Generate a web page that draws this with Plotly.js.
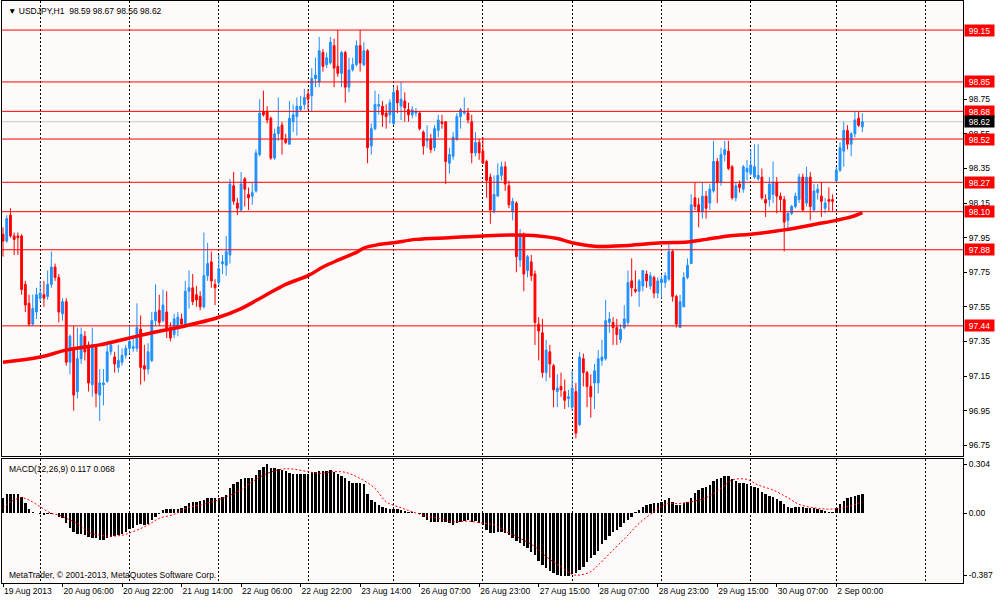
<!DOCTYPE html>
<html><head><meta charset="utf-8">
<script src="https://cdn.plot.ly/plotly-3.0.1.min.js"></script>
<style>html,body{margin:0;padding:0;background:#fff}#chart{width:1000px;height:600px}</style>
</head><body><div id="chart"></div>
<script>
// ---- USDJPY H1 candles (bar index 0 = 19 Aug 2013 14:00) ----
const openP = [
97.97,97.93,98.08,97.96,97.96,97.96,97.68,97.57,97.45,97.52,
97.60,97.62,97.61,97.68,97.78,97.72,97.51,97.58,97.23,97.31,
97.06,97.25,97.38,97.33,97.10,97.32,97.04,97.10,97.12,97.29,
97.26,97.20,97.23,97.27,97.31,97.31,97.31,97.42,97.21,97.19,
97.24,97.47,97.53,97.47,97.52,97.43,97.39,97.43,97.48,97.44,
97.64,97.66,97.62,97.61,97.55,97.73,97.81,97.68,97.69,97.80,
97.79,97.85,98.25,98.15,98.11,98.29,98.20,98.19,98.22,98.43,
98.68,98.68,98.64,98.41,98.55,98.60,98.52,98.49,98.62,98.65,
98.69,98.72,98.78,98.77,98.87,98.85,99.02,98.95,98.96,99.06,
98.94,98.90,99.02,98.82,98.92,98.95,99.06,98.95,99.03,98.48,
98.58,98.71,98.71,98.67,98.66,98.61,98.80,98.71,98.74,98.69,
98.66,98.67,98.67,98.56,98.51,98.52,98.47,98.57,98.62,98.62,
98.38,98.42,98.52,98.65,98.67,98.67,98.62,98.44,98.50,98.45,
98.39,98.30,98.10,98.19,98.31,98.36,98.25,98.10,98.15,97.82,
97.96,97.76,97.81,97.74,97.45,97.40,97.17,97.29,97.21,97.06,
97.09,97.06,97.02,96.97,97.06,96.87,97.25,97.17,97.09,97.11,
97.11,97.24,97.25,97.46,97.46,97.43,97.36,97.43,97.46,97.70,
97.65,97.64,97.67,97.74,97.67,97.72,97.63,97.69,97.69,97.71,
97.87,97.61,97.43,97.55,97.72,97.80,98.18,98.14,98.10,98.19,
98.15,98.22,98.39,98.27,98.43,98.45,98.36,98.18,98.26,98.23,
98.33,98.32,98.30,98.29,98.30,98.17,98.17,98.20,98.27,98.19,
98.17,98.05,98.09,98.13,98.17,98.30,98.15,98.30,98.11,98.21,
98.19,98.12,98.17,98.17,98.28,98.34,98.45,98.57,98.49,98.55,
98.64,98.59];
const highP = [
98.01,98.08,98.12,97.98,97.98,97.97,97.70,97.62,97.62,97.66,
97.70,97.70,97.76,97.87,97.80,97.74,97.60,97.60,97.39,97.44,
97.43,97.43,97.41,97.35,97.43,97.33,97.19,97.19,97.35,97.35,
97.29,97.33,97.31,97.33,97.44,97.38,97.57,97.50,97.33,97.34,
97.52,97.68,97.62,97.65,97.64,97.46,97.51,97.52,97.51,97.70,
97.76,97.74,97.67,97.64,97.98,97.92,97.87,97.71,97.85,97.85,
97.96,98.29,98.33,98.18,98.33,98.30,98.24,98.27,98.46,98.75,
98.80,98.71,98.65,98.58,98.76,98.62,98.55,98.74,98.72,98.76,
98.77,98.81,98.81,98.93,98.99,99.11,99.04,99.02,99.11,99.10,
99.15,99.03,99.03,98.99,98.99,99.09,99.15,99.08,99.04,98.61,
98.80,98.78,98.74,98.72,98.75,98.82,98.83,98.85,98.79,98.73,
98.71,98.70,98.68,98.57,98.60,98.55,98.60,98.66,98.66,98.62,
98.47,98.56,98.67,98.70,98.76,98.70,98.66,98.56,98.52,98.53,
98.40,98.32,98.31,98.38,98.39,98.39,98.28,98.18,98.16,98.00,
97.98,97.85,97.85,97.76,97.49,97.48,97.36,97.33,97.22,97.16,
97.17,97.13,97.07,97.18,97.11,97.29,97.28,97.18,97.16,97.22,
97.30,97.36,97.59,97.52,97.49,97.48,97.45,97.56,97.76,97.83,
97.76,97.71,97.76,97.76,97.75,97.73,97.72,97.73,97.75,97.91,
97.88,97.62,97.62,97.75,97.83,98.20,98.27,98.18,98.27,98.22,
98.26,98.51,98.41,98.47,98.51,98.51,98.37,98.27,98.28,98.37,
98.40,98.46,98.49,98.49,98.35,98.20,98.30,98.39,98.30,98.21,
98.19,98.10,98.14,98.21,98.32,98.32,98.36,98.33,98.26,98.26,
98.27,98.18,98.24,98.20,98.36,98.50,98.62,98.60,98.56,98.68,
98.68,98.67];
const lowP = [
97.84,97.92,97.95,97.85,97.85,97.62,97.52,97.44,97.44,97.48,
97.58,97.55,97.59,97.66,97.70,97.46,97.47,97.21,97.16,96.95,
97.02,97.22,97.24,97.06,97.03,96.97,96.89,96.98,97.11,97.27,
97.17,97.17,97.21,97.25,97.28,97.29,97.29,97.10,97.12,97.16,
97.23,97.44,97.44,97.46,97.37,97.35,97.37,97.38,97.44,97.43,
97.54,97.56,97.55,97.53,97.54,97.70,97.66,97.56,97.67,97.74,
97.73,97.80,98.14,98.08,98.10,98.13,98.11,98.14,98.21,98.42,
98.65,98.61,98.40,98.40,98.51,98.43,98.49,98.49,98.56,98.54,
98.68,98.69,98.69,98.68,98.82,98.82,98.91,98.93,98.95,98.82,
98.88,98.82,98.73,98.79,98.91,98.94,98.91,98.94,98.38,98.43,
98.57,98.66,98.59,98.58,98.61,98.60,98.67,98.63,98.62,98.62,
98.64,98.65,98.57,98.43,98.47,98.44,98.45,98.53,98.58,98.26,
98.32,98.40,98.51,98.58,98.66,98.61,98.38,98.42,98.40,98.38,
98.18,98.03,98.09,98.19,98.28,98.22,98.12,98.05,97.75,97.78,
97.64,97.72,97.70,97.33,97.24,97.14,97.12,97.14,96.97,96.97,
97.03,96.96,96.97,96.95,96.79,96.86,97.09,96.97,96.91,96.96,
97.05,97.21,97.24,97.40,97.33,97.33,97.34,97.42,97.44,97.61,
97.63,97.55,97.64,97.66,97.65,97.60,97.60,97.60,97.66,97.70,
97.58,97.43,97.43,97.55,97.71,97.80,98.11,98.01,98.06,98.06,
98.11,98.21,98.15,98.25,98.39,98.34,98.17,98.16,98.21,98.21,
98.28,98.31,98.29,98.28,98.17,98.07,98.13,98.15,98.09,98.10,
97.87,98.00,98.08,98.12,98.15,98.10,98.13,98.05,98.10,98.17,
98.07,98.09,98.10,98.10,98.27,98.33,98.36,98.46,98.42,98.53,
98.59,98.56];
const closeP = [
97.93,98.06,97.96,97.94,97.95,97.65,97.56,97.45,97.54,97.62,
97.63,97.60,97.68,97.78,97.72,97.52,97.58,97.23,97.38,97.04,
97.25,97.39,97.29,97.11,97.33,97.05,97.11,97.11,97.29,97.33,
97.22,97.24,97.27,97.31,97.35,97.32,97.43,97.20,97.19,97.29,
97.47,97.52,97.46,97.56,97.42,97.37,97.48,97.49,97.45,97.64,
97.66,97.58,97.59,97.55,97.73,97.80,97.70,97.66,97.77,97.81,
97.87,98.26,98.16,98.12,98.26,98.23,98.18,98.21,98.44,98.67,
98.66,98.63,98.41,98.55,98.59,98.52,98.50,98.64,98.66,98.71,
98.71,98.76,98.75,98.87,98.89,99.03,98.94,98.99,99.08,98.93,
98.90,99.02,98.82,98.92,98.95,99.06,98.96,99.03,98.47,98.58,
98.72,98.72,98.66,98.65,98.73,98.79,98.73,98.75,98.70,98.66,
98.69,98.68,98.58,98.48,98.52,98.46,98.58,98.63,98.61,98.39,
98.43,98.53,98.65,98.69,98.68,98.63,98.44,98.50,98.44,98.38,
98.28,98.11,98.20,98.31,98.36,98.26,98.14,98.16,97.84,97.97,
97.74,97.84,97.73,97.46,97.41,97.17,97.30,97.22,97.07,97.08,
97.07,97.01,97.03,97.08,96.82,97.26,97.17,97.09,97.03,97.18,
97.25,97.26,97.47,97.48,97.43,97.39,97.42,97.48,97.69,97.66,
97.64,97.70,97.76,97.70,97.73,97.63,97.70,97.71,97.73,97.87,
97.61,97.45,97.58,97.72,97.79,98.14,98.13,98.10,98.19,98.12,
98.23,98.39,98.27,98.43,98.46,98.35,98.18,98.25,98.24,98.36,
98.35,98.37,98.36,98.31,98.18,98.15,98.26,98.27,98.19,98.17,
98.04,98.09,98.13,98.19,98.30,98.11,98.30,98.13,98.22,98.23,
98.16,98.15,98.16,98.16,98.34,98.47,98.57,98.49,98.55,98.63,
98.60,98.62];

// moving average (read at sample bars)
const maIdx = [0,10,17,26,34,40,48,58,64,70,76,82,86,90,95,97,101,105,111,120,129,137,144,149,153,159,168,177,184,189,195,201,210,219,224,228,231];
const maVal = [97.23,97.26,97.30,97.33,97.37,97.40,97.435,97.49,97.54,97.61,97.68,97.73,97.78,97.82,97.865,97.89,97.91,97.92,97.94,97.95,97.96,97.965,97.96,97.945,97.92,97.90,97.905,97.92,97.925,97.94,97.96,97.97,97.995,98.03,98.05,98.07,98.095];

// MACD(12,26,9) histogram per bar
const macdHist = [
0.096,0.117,0.117,0.117,0.117,0.102,0.061,0.026,0.005,-0.001,
-0.005,-0.011,-0.007,-0.003,-0.001,-0.022,-0.032,-0.063,-0.090,-0.119,
-0.129,-0.129,-0.136,-0.146,-0.152,-0.156,-0.167,-0.169,-0.152,-0.146,
-0.142,-0.136,-0.131,-0.115,-0.098,-0.090,-0.073,-0.069,-0.073,-0.067,
-0.042,-0.022,-0.003,0.020,0.026,0.024,0.024,0.026,0.034,0.045,
0.061,0.067,0.067,0.076,0.082,0.092,0.096,0.096,0.096,0.102,
0.113,0.154,0.179,0.196,0.212,0.216,0.216,0.216,0.237,0.268,
0.289,0.304,0.283,0.278,0.274,0.268,0.262,0.247,0.243,0.243,
0.243,0.243,0.243,0.254,0.258,0.262,0.262,0.262,0.268,0.254,
0.241,0.233,0.220,0.200,0.185,0.185,0.185,0.179,0.117,0.082,
0.071,0.051,0.040,0.030,0.026,0.024,0.024,0.020,0.016,0.009,
0.005,-0.001,-0.007,-0.022,-0.042,-0.053,-0.057,-0.057,-0.053,-0.053,
-0.063,-0.073,-0.063,-0.053,-0.049,-0.042,-0.053,-0.049,
-0.063,-0.073,-0.105,-0.125,-0.125,-0.119,-0.119,-0.125,-0.136,-0.152,
-0.173,-0.187,-0.202,-0.214,-0.239,-0.260,-0.297,-0.322,-0.343,-0.359,
-0.374,-0.382,-0.387,-0.387,-0.387,-0.380,-0.374,-0.353,-0.332,-0.301,
-0.280,-0.260,-0.235,-0.194,-0.167,-0.140,-0.119,-0.105,-0.084,-0.063,
-0.042,-0.022,0.005,0.020,0.040,0.051,0.057,0.061,0.065,0.071,
0.082,0.092,0.071,0.051,0.051,0.061,0.071,0.096,0.123,0.144,
0.158,0.165,0.175,0.200,0.212,0.220,0.233,0.233,0.212,0.200,
0.185,0.185,0.179,0.171,0.165,0.154,0.134,0.117,0.109,0.102,
0.088,0.076,0.055,0.040,0.034,0.040,0.040,0.040,0.034,0.034,
0.030,0.026,0.020,0.013,0.009,0.009,0.030,0.055,0.076,0.092,
0.100,0.106,0.113,0.117];
// signal line (read at sample bars)
const sigIdx = [0,2,5,7,10,13,15,18,21,23,26,28,31,33,36,39,42,46,49,53,57,60,64,67,71,75,78,82,85,89,92,96,100,103,107,110,114,118,121,125,128,132,135,139,143,146,150,153,155,158,160,164,168,171,175,178,182,186,189,193,196,200,203,207,211,214,218,221,225,229,231];
const sigVal = [0.030,0.071,0.096,0.082,0.040,-0.001,-0.011,-0.042,-0.078,-0.119,-0.136,-0.142,-0.140,-0.131,-0.105,-0.073,-0.032,-0.007,0.030,0.051,0.076,0.102,0.144,0.196,0.247,0.274,0.274,0.258,0.247,0.258,0.254,0.216,0.154,0.071,0.034,0.009,-0.018,-0.036,-0.053,-0.049,-0.059,-0.073,-0.111,-0.156,-0.208,-0.270,-0.332,-0.380,-0.384,-0.363,-0.322,-0.229,-0.136,-0.063,0.009,0.055,0.061,0.076,0.096,0.154,0.206,0.210,0.175,0.144,0.096,0.055,0.034,0.026,0.030,0.055,0.068];

// time axis
const labelIdx = [0,16,32,48,64,80,96,112,128,144,160,176,192,208,224];
const labelTxt = ['19 Aug 2013','20 Aug 06:00','20 Aug 22:00','21 Aug 14:00','22 Aug 06:00','22 Aug 22:00','23 Aug 14:00','26 Aug 07:00','26 Aug 23:00','27 Aug 15:00','28 Aug 07:00','28 Aug 23:00','29 Aug 15:00','30 Aug 07:00','2 Sep 00:00'];
const dayStarts = [10,34,58,82,105,129,153,177,201,224,248];

// price levels
const levels = [99.15,98.85,98.68,98.52,98.27,98.10,97.88,97.44];
const lastPrice = 98.62;
const priceTicks = [96.75,96.95,97.15,97.35,97.55,97.75,97.95,98.15,98.35,98.55,98.75];
const macdTicks = [0.304,0,-0.387];
const macdTickTxt = ['0.304','0.00','-0.387'];

const xi = closeP.map((_, i) => i);
const xRange = [-0.27, 258.06];
const FONT = 'Liberation Sans, Arial, sans-serif';

const traces = [
  {type:'candlestick', x:xi, open:openP, high:highP, low:lowP, close:closeP, xaxis:'x', yaxis:'y',
   increasing:{line:{color:'#1E90FF', width:1}, fillcolor:'#1E90FF'},
   decreasing:{line:{color:'#FF0000', width:1}, fillcolor:'#FF0000'},
   whiskerwidth:0, hoverinfo:'skip', showlegend:false},
  {type:'scatter', mode:'lines', x:maIdx, y:maVal, xaxis:'x', yaxis:'y',
   line:{color:'#FF0000', width:3.5, shape:'spline'}, hoverinfo:'skip'},
  {type:'bar', x:xi, y:macdHist, xaxis:'x2', yaxis:'y2', width:0.66,
   marker:{color:'#000000', line:{width:0}}, hoverinfo:'skip'},
  {type:'scatter', mode:'lines', x:sigIdx, y:sigVal, xaxis:'x2', yaxis:'y2',
   line:{color:'#FF0000', width:1, dash:'2px,2px', shape:'spline'}, hoverinfo:'skip'}
];

const minorGrid = {tickmode:'array', tickvals:dayStarts, showgrid:true, gridcolor:'#000000', gridwidth:1, griddash:'2px,2px', ticks:''};

const shapes = [];
shapes.push({type:'line', xref:'x domain', yref:'y', x0:0, x1:1, y0:lastPrice, y1:lastPrice, line:{color:'#C8C8C8', width:1}, layer:'below'});
levels.forEach(v => shapes.push({type:'line', xref:'x domain', yref:'y', x0:0, x1:1, y0:v, y1:v, line:{color:'#FF0000', width:1}, layer:'above'}));

const annotations = [];
levels.forEach(v => annotations.push({xref:'paper', yref:'y', x:1, y:v, xanchor:'left', yanchor:'middle', xshift:1,
  text:v.toFixed(2), showarrow:false, bgcolor:'#FF0000', font:{family:FONT, size:8.5, color:'#FFFFFF'}, borderpad:1, width:27, height:9}));
annotations.push({xref:'paper', yref:'y', x:1, y:lastPrice, xanchor:'left', yanchor:'middle', xshift:1,
  text:lastPrice.toFixed(2), showarrow:false, bgcolor:'#000000', font:{family:FONT, size:8.5, color:'#FFFFFF'}, borderpad:1, width:27, height:9});
annotations.push({xref:'paper', yref:'paper', x:0, y:1, xanchor:'left', yanchor:'top', xshift:4, yshift:-3,
  text:'▼ USDJPY,H1  98.59 98.67 98.56 98.62', showarrow:false, font:{family:FONT, size:8.5, color:'#000'}});
annotations.push({xref:'paper', yref:'paper', x:0, y:0.213, xanchor:'left', yanchor:'top', xshift:5, yshift:-3,
  text:'MACD(12,26,9) 0.117 0.068', showarrow:false, font:{family:FONT, size:8.5, color:'#000'}});
annotations.push({xref:'paper', yref:'paper', x:0, y:0, xanchor:'left', yanchor:'bottom', xshift:5, yshift:1,
  text:'MetaTrader, © 2001-2013, MetaQuotes Software Corp.', showarrow:false, font:{family:FONT, size:8.5, color:'#000'}});

const layout = {
  width:1000, height:600,
  margin:{l:2, r:37, t:1, b:17, pad:0},
  paper_bgcolor:'#FFFFFF', plot_bgcolor:'#FFFAFA',
  showlegend:false, bargap:0,
  font:{family:FONT, size:8.5, color:'#000000'},
  xaxis:{domain:[0,1], anchor:'y', range:xRange, rangeslider:{visible:false},
    tickmode:'array', tickvals:labelIdx, showticklabels:false, ticks:'', showgrid:false, zeroline:false,
    showline:true, mirror:true, linecolor:'#000000', linewidth:1, minor:minorGrid},
  xaxis2:{domain:[0,1], anchor:'y2', matches:'x', range:xRange,
    tickmode:'array', tickvals:labelIdx, ticktext:labelTxt, ticks:'outside', ticklen:3, tickcolor:'#000',
    ticklabelposition:'outside right', tickfont:{family:FONT, size:8.5, color:'#000'},
    showgrid:false, zeroline:false, showline:true, mirror:true, linecolor:'#000000', linewidth:1, minor:minorGrid},
  yaxis:{domain:[0.2174,1], anchor:'x', range:[96.685,99.318], side:'right',
    tickmode:'array', tickvals:priceTicks, ticktext:priceTicks.map(v=>v.toFixed(2)),
    ticks:'outside', ticklen:3, tickcolor:'#000', tickfont:{family:FONT, size:8.5, color:'#000'},
    showgrid:false, zeroline:false, showline:true, mirror:true, linecolor:'#000000', linewidth:1},
  yaxis2:{domain:[0,0.213], anchor:'x2', range:[-0.4335,0.3366], side:'right',
    tickmode:'array', tickvals:macdTicks, ticktext:macdTickTxt,
    ticks:'outside', ticklen:3, tickcolor:'#000', tickfont:{family:FONT, size:8.5, color:'#000'},
    showgrid:false, zeroline:false, showline:true, mirror:true, linecolor:'#000000', linewidth:1},
  shapes:shapes, annotations:annotations
};

Plotly.newPlot('chart', traces, layout, {staticPlot:true, displayModeBar:false});
</script>
</body></html>
